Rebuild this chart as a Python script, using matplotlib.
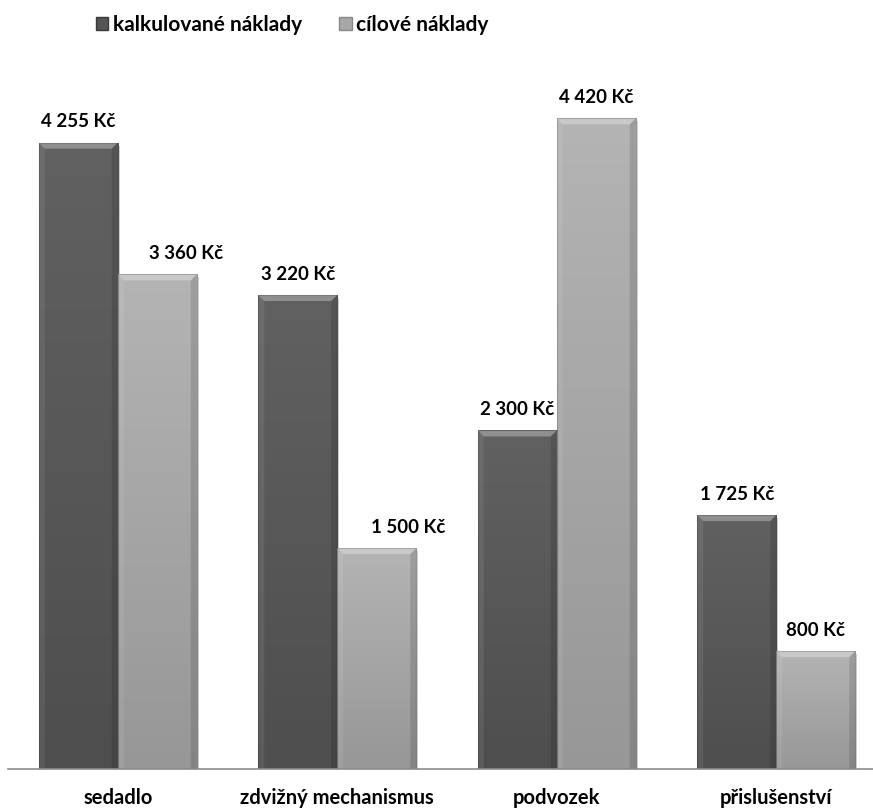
import matplotlib.pyplot as plt
import numpy as np
from matplotlib.colors import LinearSegmentedColormap
from matplotlib.patches import Polygon, Patch

plt.rcParams['font.family'] = ['Lato', 'DejaVu Sans']

categories = ['sedadlo', 'zdvižný mechanismus', 'podvozek', 'přislušenství']
kalkulovane = [4255, 3220, 2300, 1725]
cilove = [3360, 1500, 4420, 800]
series_names = ['kalkulované náklady', 'cílové náklady']

# label shifts in px (Excel had two labels moved to the right)
shift_k = [0, 0, 0, 0]
shift_c = [29, 31, 0, 0]


def fmt(v):
    return '{:,}'.format(v).replace(',', ' ') + ' Kč'


W, H = 873, 809
fig = plt.figure(figsize=(W / 100, H / 100), dpi=100)
ax = fig.add_axes([8 / W, 40 / H, 865 / W, 769 / H])

x = np.arange(len(categories))
bw = 0.36
dark_top, dark_bot = '#616161', '#4e4e4e'
light_top, light_bot = '#b4b4b4', '#979797'

bars_k = ax.bar(x - bw / 2, kalkulovane, bw, color='none', zorder=2)
bars_c = ax.bar(x + bw / 2, cilove, bw, color='none', zorder=2)

xlim = (-0.5, -0.5 + 865 / 219.5)
ylim = (0, 769 / 0.1472)

bx = 6 / 219.5
by = 6 / 0.1472


def shade(bars, top, bot):
    cmap = LinearSegmentedColormap.from_list('g', [bot, top])
    for b in bars:
        x0, y0 = b.get_x(), b.get_y()
        x1, y1 = x0 + b.get_width(), y0 + b.get_height()
        # soft shadow to the right
        ax.add_patch(plt.Rectangle((x1, y0), 0.008, y1 - y0 - by * 0.5,
                                   color='#d0d0d0', zorder=1, lw=0))
        grad = np.linspace(0, 1, 256).reshape(-1, 1)
        im = ax.imshow(grad, cmap=cmap, extent=(x0, x1, y0, y1), origin='lower',
                       aspect='auto', zorder=2, interpolation='bicubic')
        im.set_clip_path(b)
        # bevel: top lighter, sides
        ax.add_patch(Polygon([(x0, y1), (x1, y1), (x1 - bx, y1 - by), (x0 + bx, y1 - by)],
                             closed=True, color='white', alpha=0.3, lw=0, zorder=3))
        ax.add_patch(Polygon([(x0, y1), (x0 + bx, y1 - by), (x0 + bx, y0), (x0, y0)],
                             closed=True, color='white', alpha=0.08, lw=0, zorder=3))
        ax.add_patch(Polygon([(x1, y1), (x1 - bx, y1 - by), (x1 - bx, y0), (x1, y0)],
                             closed=True, color='black', alpha=0.12, lw=0, zorder=3))
        ax.add_patch(plt.Rectangle((x0, y0), x1 - x0, y1 - y0, fill=False,
                                   ec='black', alpha=0.15, lw=0.8, zorder=4))


shade(bars_k, dark_top, dark_bot)
shade(bars_c, light_top, light_bot)

for bars, vals, shifts in [(bars_k, kalkulovane, shift_k), (bars_c, cilove, shift_c)]:
    for b, v, s in zip(bars, vals, shifts):
        ax.annotate(fmt(v), (b.get_x() + b.get_width() / 2, b.get_height()),
                    xytext=(s * 0.72, 21 * 0.72), textcoords='offset points',
                    ha='center', va='center', fontsize=13.5, fontweight='bold',
                    color='black', zorder=5)

ax.set_xlim(*xlim)
ax.set_ylim(*ylim)
ax.set_xticks(x)
ax.set_xticklabels(categories, fontsize=14.5, fontweight='bold')
ax.tick_params(axis='x', length=0, pad=14)
ax.set_yticks([])
for side in ['top', 'left', 'right']:
    ax.spines[side].set_visible(False)
ax.spines['bottom'].set_color('#8c8c8c')
ax.spines['bottom'].set_linewidth(1.2)
ax.spines['bottom'].set_zorder(5)

handles = [Patch(facecolor='#555555', edgecolor='#3a3a3a'),
           Patch(facecolor='#a6a6a6', edgecolor='#888888')]
fig.legend(handles, series_names, loc='center', bbox_to_anchor=(292 / W, 1 - 25 / H),
           ncol=2, frameon=False, handlelength=0.6, handleheight=0.6,
           handletextpad=0.2, columnspacing=1.8,
           prop={'weight': 'bold', 'size': 15})

fig.savefig('out.png', dpi=100)
